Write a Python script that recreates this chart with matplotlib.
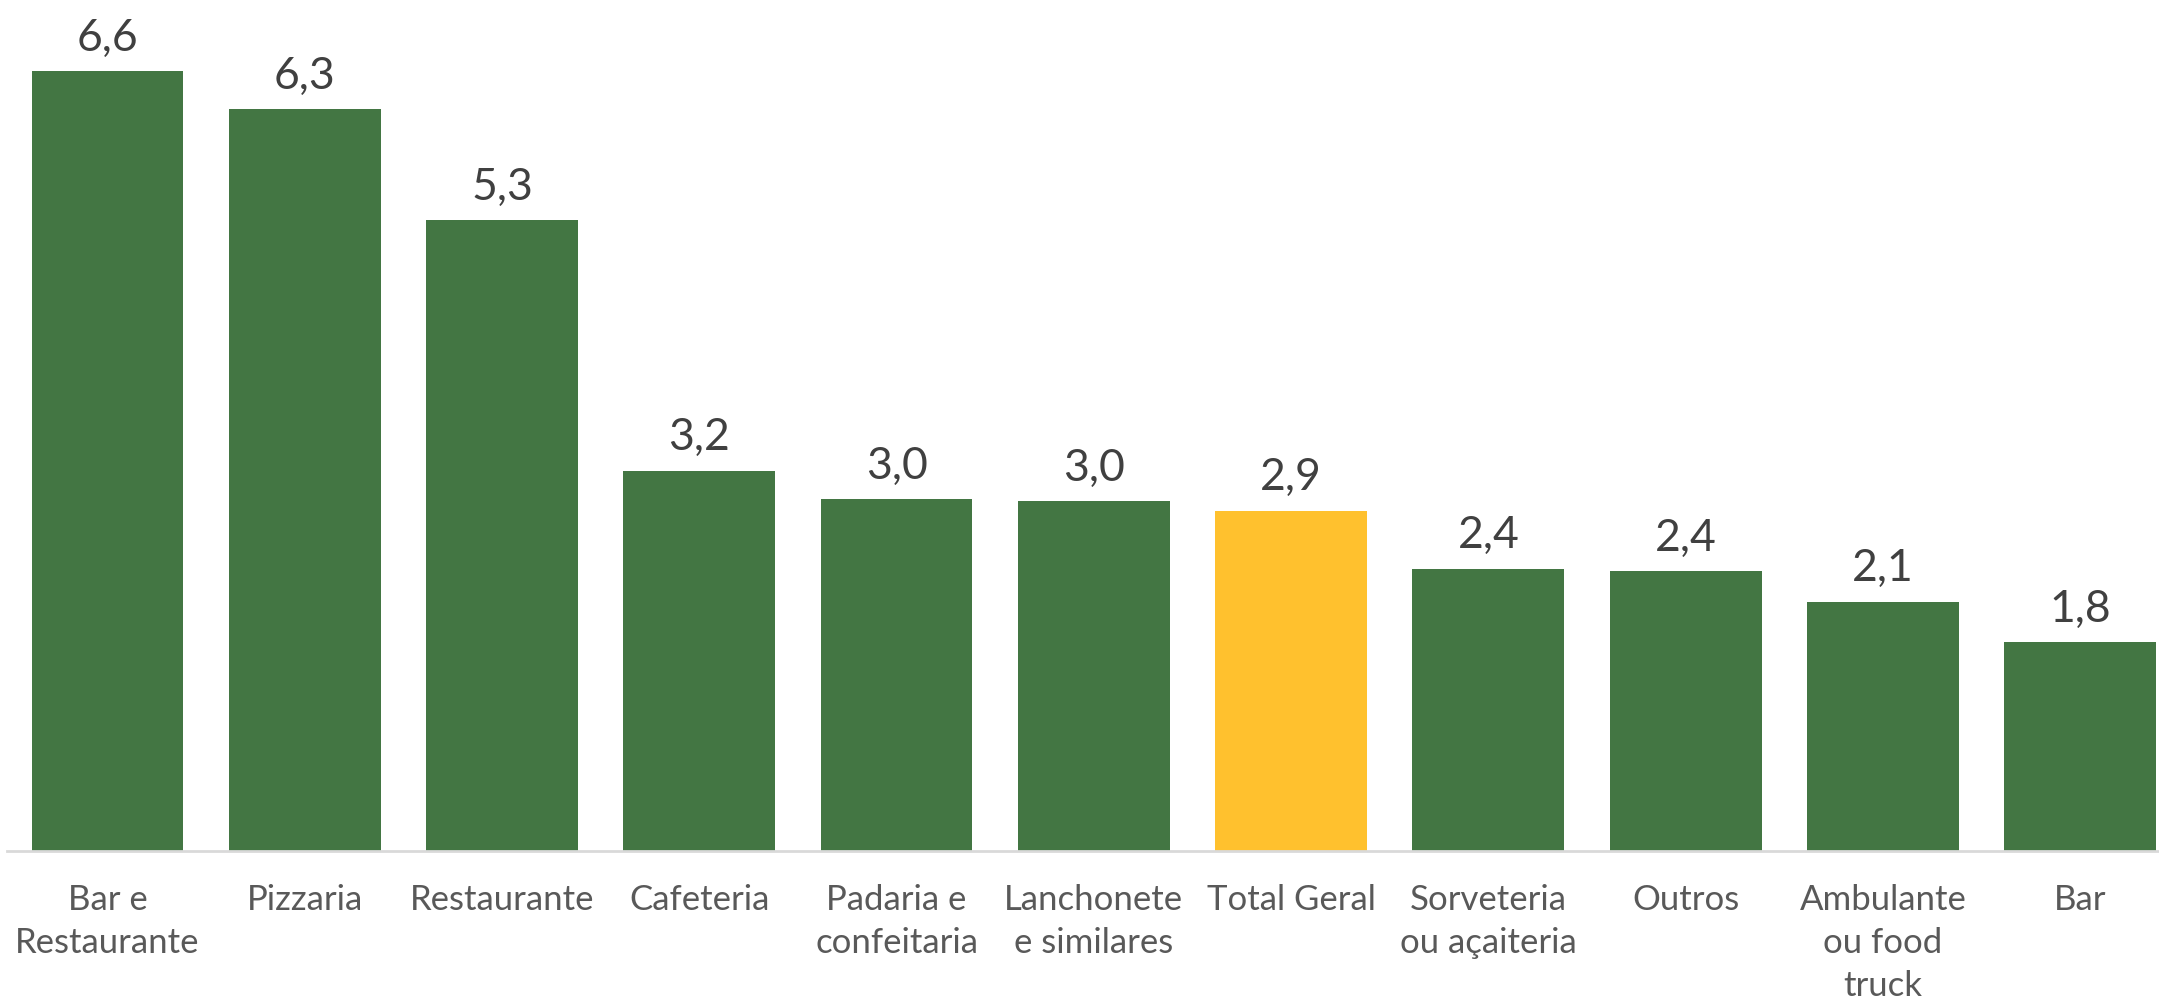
import numpy as np
import matplotlib
matplotlib.use('Agg')
import matplotlib.pyplot as plt

plt.rcParams['font.family'] = ['Lato', 'DejaVu Sans']

# --- Data ---
categories = ['Bar e\nRestaurante', 'Pizzaria', 'Restaurante', 'Cafeteria', 'Padaria e\nconfeitaria',
              'Lanchonete\ne similares', 'Total Geral', 'Sorveteria\nou açaiteria', 'Outros',
              'Ambulante\nou food\ntruck', 'Bar']
values = [6.60, 6.28, 5.34, 3.22, 2.98, 2.96, 2.88, 2.39, 2.37, 2.11, 1.77]
highlight = 'Total Geral'

GREEN = '#437643'
YELLOW = '#FFC12E'

W, H = 2159, 1007
fig = plt.figure(figsize=(W / 100, H / 100), dpi=100)

# plot area: baseline at ~851 px from top, axes reaching the top edge
base_frac = (H - 851) / H
ax = fig.add_axes([0, base_frac, 1, 1 - base_frac])

x = np.arange(len(categories))
colors = [YELLOW if c == highlight else GREEN for c in categories]
bars = ax.bar(x, values, width=0.77, color=colors, zorder=2)

for xi, v in zip(x, values):
    ax.annotate(f'{v:.1f}'.replace('.', ','), (xi, v), xytext=(0, 9), textcoords='offset points',
                ha='center', va='bottom', fontsize=32, color='#404040')

ax.set_xlim(-0.545, 10.40)
ax.set_ylim(0, 7.205)

ax.set_xticks(x)
ax.set_xticklabels(categories, fontsize=25, color='#595959', linespacing=1.42)
ax.tick_params(axis='x', length=0, pad=24)
ax.set_yticks([])

for s in ['top', 'right', 'left']:
    ax.spines[s].set_visible(False)
ax.spines['bottom'].set_color('#D9D9D9')
ax.spines['bottom'].set_linewidth(2)
ax.spines['bottom'].set_bounds(-0.51, 10.40)

fig.savefig('out.png', dpi=100)
